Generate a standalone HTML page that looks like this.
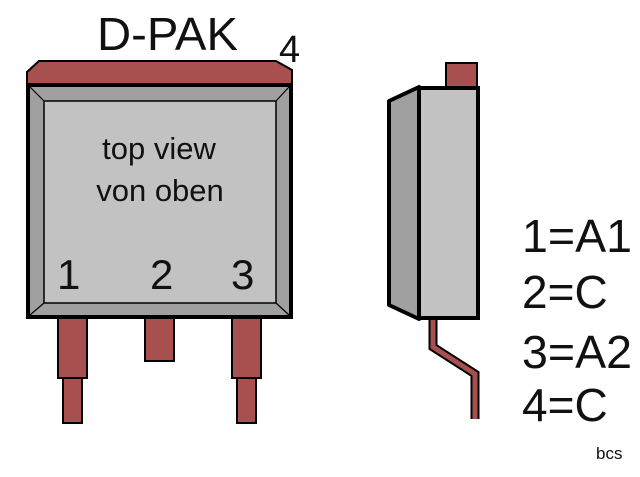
<!DOCTYPE html>
<html><head><style>
body{margin:0;background:#fff;width:640px;height:472px;overflow:hidden}
text{font-family:"Liberation Sans",Arial,sans-serif;fill:#111}
</style></head><body>
<svg width="640" height="472" viewBox="0 0 640 472">
<g stroke="#000" stroke-width="2" fill="#a84f4f">
<rect x="58" y="318" width="29" height="60"/>
<rect x="63" y="378" width="19" height="45"/>
<rect x="145" y="318" width="29" height="43"/>
<rect x="232" y="318" width="29" height="60"/>
<rect x="237" y="378" width="19" height="45"/>
<polygon points="27,84 27,72 39,61 276,61 292,70 292,84"/>
</g>
<rect x="28" y="85" width="263" height="232" fill="#a0a0a0" stroke="#000" stroke-width="4"/>
<rect x="44" y="101" width="232" height="202" fill="#c2c2c2" stroke="#000" stroke-width="1.5"/>
<g stroke="#000" stroke-width="1.2">
<line x1="30" y1="87" x2="44" y2="101"/><line x1="289" y1="87" x2="276" y2="101"/>
<line x1="30" y1="315" x2="44" y2="303"/><line x1="289" y1="315" x2="276" y2="303"/>
</g>
<text x="97" y="50" font-size="46" textLength="141" lengthAdjust="spacingAndGlyphs">D-PAK</text>
<text x="279" y="62" font-size="38">4</text>
<text x="159" y="159" font-size="31" text-anchor="middle">top view</text>
<text x="160" y="201" font-size="31" text-anchor="middle">von oben</text>
<text x="57" y="289" font-size="42">1</text>
<text x="150" y="289" font-size="42">2</text>
<text x="231" y="289" font-size="42">3</text>
<rect x="446" y="63" width="31" height="24" fill="#a84f4f" stroke="#000" stroke-width="2"/>
<polyline points="433,319 433,347 475,374 475,419" fill="none" stroke="#000" stroke-width="9" stroke-linejoin="miter"/>
<polyline points="433,319 433,347 475,374 475,419" fill="none" stroke="#a84f4f" stroke-width="5"/>
<polygon points="389,101 419,87 419,319 389,305" fill="#a0a0a0" stroke="#000" stroke-width="4" stroke-linejoin="round"/>
<rect x="419" y="88" width="59" height="230" fill="#c2c2c2" stroke="#000" stroke-width="4"/>
<line x1="419" y1="88" x2="419" y2="318" stroke="#000" stroke-width="2"/>
<text x="522" y="252" font-size="46" textLength="110" lengthAdjust="spacingAndGlyphs">1=A1</text>
<text x="522" y="308" font-size="46">2=C</text>
<text x="522" y="368" font-size="46" textLength="110" lengthAdjust="spacingAndGlyphs">3=A2</text>
<text x="522" y="421" font-size="46">4=C</text>
<text x="596" y="459" font-size="17">bcs</text>
</svg>
</body></html>
